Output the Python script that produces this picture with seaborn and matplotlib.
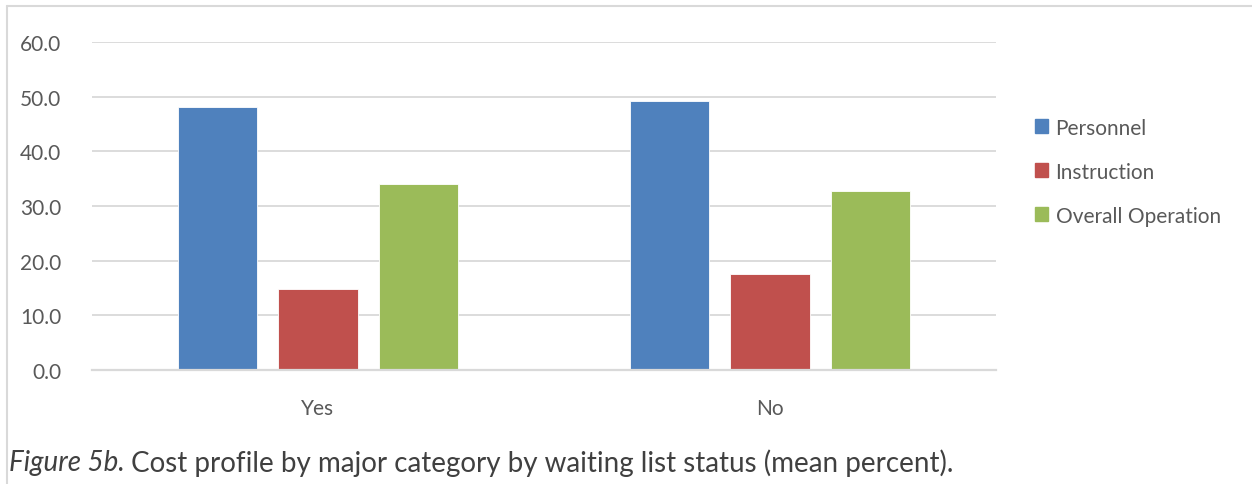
import matplotlib
matplotlib.use("Agg")
import matplotlib.pyplot as plt
import seaborn as sns
import pandas as pd
from matplotlib.lines import Line2D
import matplotlib.patches as mpatches

# values (mean percent)
status = ["Yes", "No"]
categories = ["Personnel", "Instruction", "Overall Operation"]
personnel = [48.2, 49.2]
instruction = [14.8, 17.5]
overall_operation = [34.0, 32.7]
y_ticks = [0, 10, 20, 30, 40, 50, 60]
colors = ["#4F81BD", "#C0504D", "#9BBB59"]

df = pd.DataFrame({
    "status": status * 3,
    "category": [c for c in categories for _ in status],
    "value": personnel + instruction + overall_operation,
})

sns.set_theme(style="white")
plt.rcParams["font.family"] = ["Lato", "DejaVu Sans"]

fig = plt.figure(figsize=(12.52, 4.85), dpi=100)
ax = fig.add_axes([92 / 1252, 1 - 371 / 485, (996 - 92) / 1252, (371 - 43) / 485])

sns.barplot(data=df, x="status", y="value", hue="category",
            order=status, hue_order=categories, palette=colors,
            width=0.664, gap=0.21, saturation=1, ax=ax, legend=False,
            edgecolor="white", linewidth=0.6)

ax.set_xlim(-0.5, 1.5)
ax.set_ylim(0, 60)
ax.set_yticks(y_ticks)
ax.set_yticklabels([f"{t:.1f}" for t in y_ticks])
ax.grid(axis="y", color="#D9D9D9", linewidth=1.3)
ax.set_axisbelow(True)
for s in ["top", "right", "left"]:
    ax.spines[s].set_visible(False)
ax.spines["bottom"].set_color("#D9D9D9")
ax.spines["bottom"].set_linewidth(1.6)
ax.tick_params(axis="both", length=0, labelsize=15, colors="#595959")
ax.tick_params(axis="y", pad=22)
ax.tick_params(axis="x", pad=20)
ax.set_xlabel("")
ax.set_ylabel("")

handles = [mpatches.Patch(color=c, label=l) for c, l in zip(colors, categories)]
fig.legend(handles=handles, loc="upper left", bbox_to_anchor=(1016 / 1252, 1 - 100 / 485),
           frameon=False, fontsize=15, labelcolor="#595959",
           handlelength=0.65, handleheight=0.65, handletextpad=0.35, labelspacing=1.15)

# chart frame (top and left edges only)
fig.add_artist(Line2D([7 / 1252, 1], [1 - 7 / 485, 1 - 7 / 485], color="#D9D9D9", linewidth=1.5))
fig.add_artist(Line2D([7 / 1252, 7 / 1252], [0, 1 - 7 / 485], color="#D9D9D9", linewidth=1.5))

cap1 = fig.text(9 / 1252, 1 - 463 / 485, "Figure 5b.", style="italic", fontsize=20,
                color="#404040", va="center", ha="left")
fig.canvas.draw()
bb = cap1.get_window_extent()
fig.text((bb.x1 + 6) / 1252, 1 - 463 / 485,
         "Cost profile by major category by waiting list status (mean percent).",
         fontsize=20, color="#404040", va="center", ha="left")

fig.savefig("out.png", dpi=100)
